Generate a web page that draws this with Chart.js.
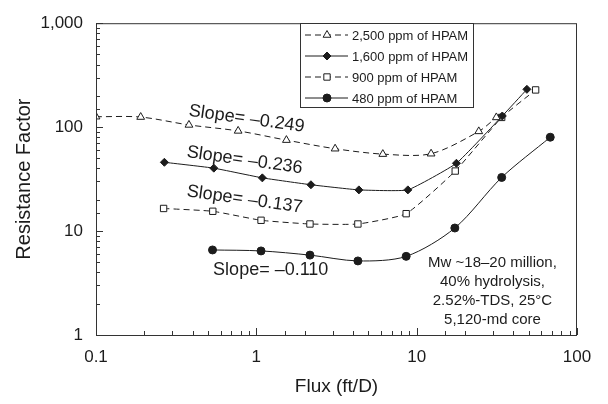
<!DOCTYPE html>
<html>
<head>
<meta charset="utf-8">
<script src="https://cdn.jsdelivr.net/npm/chart.js@4.4.0/dist/chart.umd.min.js"></script>
<style>
body { margin: 0; background: #fff; }
</style>
</head>
<body>
<canvas id="myChart" width="608" height="404"></canvas>
<script>
// values (flux in ft/D, resistance factor)
var flux2500 = [0.1, 0.19, 0.38, 0.77, 1.54, 3.1, 6.15, 12.3, 24.4, 31.4];
var rf2500   = [126, 125, 105, 92, 75, 62, 55, 55.5, 91, 124];
var flux1600 = [0.267, 0.543, 1.09, 2.19, 4.36, 8.81, 17.7, 34.2, 48.7];
var rf1600   = [45.9, 40.3, 32.5, 27.9, 24.9, 24.9, 44.9, 128, 231];
var flux900  = [0.264, 0.535, 1.07, 2.16, 4.3, 8.6, 17.4, 33.9, 55.2];
var rf900    = [16.5, 15.5, 12.7, 11.7, 11.7, 14.7, 37.8, 124, 228];
var flux480  = [0.533, 1.07, 2.16, 4.3, 8.6, 17.3, 33.9, 68.1];
var rf480    = [6.58, 6.44, 5.87, 5.16, 5.71, 10.7, 32.8, 80];

var seriesLabels = ['2,500 ppm of HPAM', '1,600 ppm of HPAM', '900 ppm of HPAM', '480 ppm of HPAM'];
var xTicks = [0.1, 1, 10, 100];
var yTicks = [1, 10, 100, 1000];

var slopeText = ['Slope= \u20130.249', 'Slope= \u20130.236', 'Slope= \u20130.137', 'Slope= \u20130.110'];
var slopeAtX  = [0.87, 0.845, 0.845, 1.23];
var slopeAtY  = [120, 48, 20.1, 4.25];
var noteLines = ['Mw ~18\u201320 million,', '40% hydrolysis,', '2.52%-TDS, 25\u00b0C', '5,120-md core'];

var FONT = '"Liberation Sans", Arial, sans-serif';
var INK = '#1c1c1c';

function pts(xs, ys) {
    return xs.map(function (x, i) { return { x: x, y: ys[i] }; });
}

function fmt(v) {
    return v >= 1000 ? v.toLocaleString('en-US') : String(v);
}

var extras = {
    id: 'extras',
    afterDraw: function (chart) {
        var ctx = chart.ctx;
        var a = chart.chartArea;
        var sx = chart.scales.x, sy = chart.scales.y;
        ctx.save();
        ctx.strokeStyle = '#333';
        ctx.lineWidth = 1;
        ctx.strokeRect(a.left + 0.5, a.top + 0.5, a.right - a.left - 1, a.bottom - a.top);

        // tick marks pointing inward
        ctx.beginPath();
        sx.ticks.forEach(function (t) {
            var p = Math.round(sx.getPixelForValue(t.value)) + 0.5;
            var len = xTicks.indexOf(t.value) >= 0 ? 7 : 4;
            ctx.moveTo(p, a.bottom);
            ctx.lineTo(p, a.bottom - len);
        });
        sy.ticks.forEach(function (t) {
            var p = Math.round(sy.getPixelForValue(t.value)) + 0.5;
            var len = yTicks.indexOf(t.value) >= 0 ? 7 : 4;
            ctx.moveTo(a.left, p);
            ctx.lineTo(a.left + len, p);
        });
        ctx.stroke();

        // slope notes
        ctx.fillStyle = INK;
        ctx.font = '18px ' + FONT;
        ctx.textAlign = 'center';
        ctx.textBaseline = 'middle';
        slopeText.forEach(function (s, i) {
            ctx.save();
            ctx.translate(sx.getPixelForValue(slopeAtX[i]), sy.getPixelForValue(slopeAtY[i]));
            if (i < 3) ctx.rotate(8 * Math.PI / 180);
            ctx.fillText(s, 0, 0);
            ctx.restore();
        });

        // polymer note
        ctx.font = '15px ' + FONT;
        var nx = sx.getPixelForValue(29.7), ny = sy.getPixelForValue(4.94);
        noteLines.forEach(function (s, i) {
            ctx.fillText(s, nx, ny + i * 19);
        });

        // legend box
        var lx = 300, ly = 23, lw = 173, lh = 84;
        ctx.fillStyle = '#fff';
        ctx.fillRect(lx, ly, lw, lh);
        ctx.strokeStyle = '#333';
        ctx.strokeRect(lx + 0.5, ly + 0.5, lw, lh);
        ctx.font = '13px ' + FONT;
        ctx.textAlign = 'left';
        chart.data.datasets.forEach(function (ds, i) {
            var yy = ly + 12 + i * 21;
            ctx.strokeStyle = INK;
            ctx.setLineDash(ds.borderDash || []);
            ctx.beginPath();
            ctx.moveTo(lx + 5, yy);
            ctx.lineTo(lx + 48, yy);
            ctx.stroke();
            ctx.setLineDash([]);
            ctx.fillStyle = ds.pointBackgroundColor;
            ctx.strokeStyle = ds.pointBorderColor;
            Chart.helpers.drawPoint(ctx, {
                pointStyle: ds.pointStyle, radius: ds.pointRadius, rotation: 0, borderWidth: 1
            }, lx + 27, yy);
            ctx.fillStyle = INK;
            ctx.fillText(ds.label, lx + 52, yy + 1);
        });
        ctx.restore();
    }
};

var common = {
    borderColor: INK,
    borderWidth: 1,
    pointBorderColor: INK,
    pointBorderWidth: 1,
    fill: false
};

var ctx = document.getElementById('myChart').getContext('2d');
var myChart = new Chart(ctx, {
    type: 'line',
    data: {
        datasets: [
            Object.assign({}, common, {
                label: seriesLabels[0],
                data: pts(flux2500, rf2500),
                borderDash: [6, 4],
                tension: 0.3,
                pointStyle: 'triangle',
                pointRadius: 4.5,
                pointBackgroundColor: '#fff'
            }),
            Object.assign({}, common, {
                label: seriesLabels[1],
                data: pts(flux1600, rf1600),
                tension: 0.12,
                pointStyle: 'rectRot',
                pointRadius: 4,
                pointBackgroundColor: INK
            }),
            Object.assign({}, common, {
                label: seriesLabels[2],
                data: pts(flux900, rf900),
                borderDash: [6, 4],
                tension: 0.15,
                pointStyle: 'rect',
                pointRadius: 4.5,
                pointBackgroundColor: '#fff'
            }),
            Object.assign({}, common, {
                label: seriesLabels[3],
                data: pts(flux480, rf480),
                tension: 0.3,
                pointStyle: 'circle',
                pointRadius: 4,
                pointBackgroundColor: INK
            })
        ]
    },
    options: {
        responsive: false,
        animation: false,
        devicePixelRatio: 1,
        layout: { padding: { top: 15, right: 31, left: 0, bottom: 0 } },
        plugins: {
            legend: { display: false },
            tooltip: { enabled: false }
        },
        scales: {
            x: {
                type: 'logarithmic',
                min: 0.1,
                max: 100,
                afterFit: function (s) { s.height = 69; },
                grid: { display: false, drawTicks: false },
                border: { display: false },
                ticks: {
                    autoSkip: false,
                    maxRotation: 0,
                    padding: 12,
                    color: INK,
                    font: { family: FONT, size: 17 },
                    callback: function (v) { return xTicks.indexOf(v) >= 0 ? fmt(v) : ''; }
                },
                title: {
                    display: true,
                    text: 'Flux (ft/D)',
                    color: INK,
                    font: { family: FONT, size: 19 },
                    padding: { top: 0, bottom: 6 }
                }
            },
            y: {
                type: 'logarithmic',
                min: 1,
                max: 1000,
                afterFit: function (s) { s.width = 96; },
                grid: { display: false, drawTicks: false },
                border: { display: false },
                ticks: {
                    autoSkip: false,
                    padding: 13,
                    color: INK,
                    font: { family: FONT, size: 17 },
                    callback: function (v) { return yTicks.indexOf(v) >= 0 ? fmt(v) : ''; }
                },
                title: {
                    display: true,
                    text: 'Resistance Factor',
                    color: INK,
                    font: { family: FONT, size: 20 },
                    padding: { top: 12, bottom: 0 }
                }
            }
        }
    },
    plugins: [extras]
});
</script>
</body>
</html>
